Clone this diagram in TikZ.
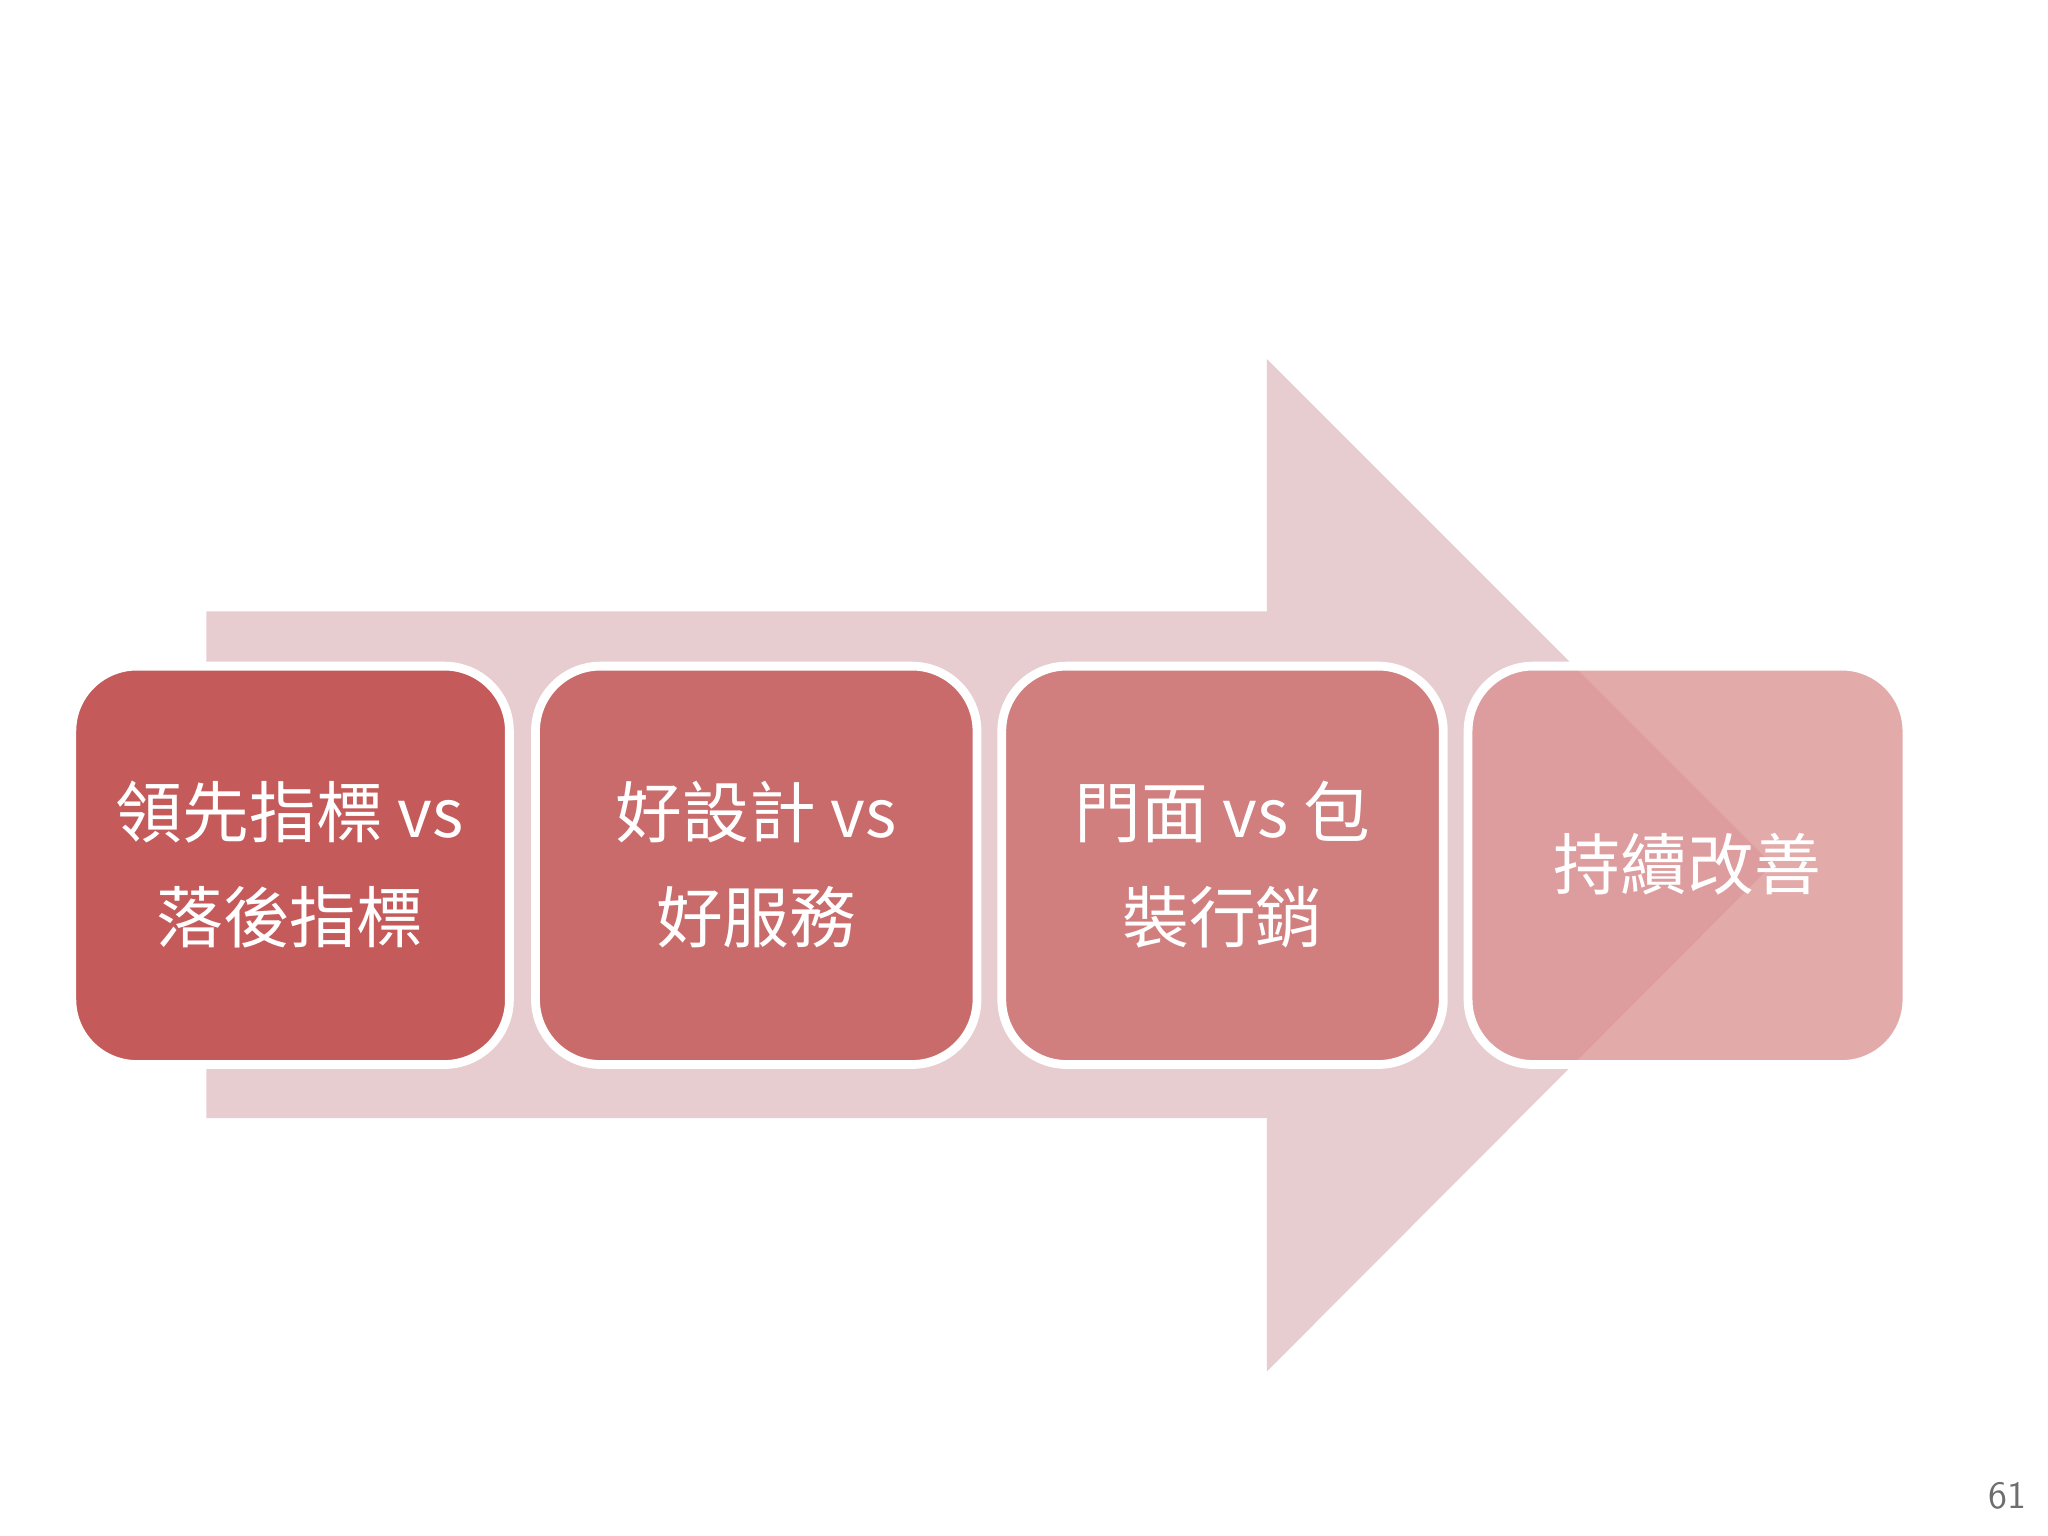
\documentclass[tikz,border=0pt]{standalone}
\usepackage{fontspec}
\newfontfamily\cjk{Noto Sans CJK TC}
\begin{document}
\begin{tikzpicture}[x=0.013061cm,y=-0.013061cm,
  stepbox/.style={draw=white,line width=2.5pt,rounded corners=0.65cm},
  lbl/.style={text=white,font=\cjk\fontsize{19}{30}\selectfont,align=center}]
\useasboundingbox (0,0) rectangle (1568,1176);
\fill[white] (0,0) rectangle (1568,1176);
\fill[fill={rgb,255:red,232;green,205;blue,208}] (158,468) -- (970,468) -- (970,275) -- (1357,662) -- (970,1050) -- (970,856) -- (158,856) -- cycle;
\draw[stepbox,fill={rgb,255:red,196;green,90;blue,90}] (55,510) rectangle (390,815);
\draw[stepbox,fill={rgb,255:red,201;green,107;blue,107}] (410,510) rectangle (748,815);
\draw[stepbox,fill={rgb,255:red,208;green,126;blue,126}] (767,510) rectangle (1105,815);
\draw[stepbox,fill={rgb,255:red,218;green,142;blue,142},fill opacity=0.75] (1124,510) rectangle (1460,815);
\node[lbl] (a) at (222,662) {領先指標 vs\\落後指標};
\node[lbl] (b) at (579,662) {好設計 vs\\好服務};
\node[lbl] (c) at (936,662) {門面 vs 包\\裝行銷};
\node[lbl] (d) at (1292,662) {持續改善};
\node[text={rgb,255:red,110;green,110;blue,110},font=\fontsize{11}{13}\selectfont\sffamily] (p) at (1537,1145) {61};
\end{tikzpicture}
\end{document}
